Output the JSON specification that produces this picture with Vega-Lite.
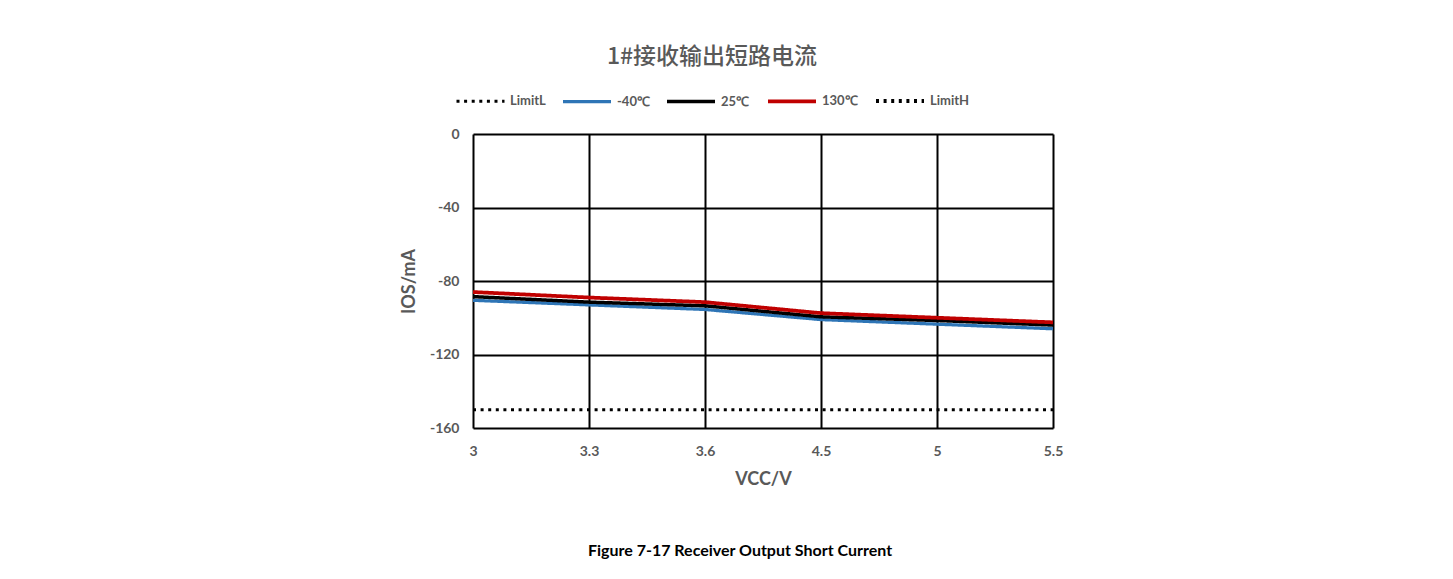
{
  "$schema": "https://vega.github.io/schema/vega-lite/v6.json",
  "autosize": {"type": "none"},
  "width": 580,
  "height": 294,
  "padding": {"left": 473, "top": 134, "right": 400, "bottom": 151},
  "background": "white",
  "config": {
    "font": "Lato",
    "view": {"stroke": null}
  },
  "title": {
    "text": "Figure 7-17 Receiver Output Short Current",
    "orient": "bottom",
    "anchor": "middle",
    "frame": "group",
    "font": "Lato",
    "fontSize": 16,
    "fontWeight": "bold",
    "color": "black",
    "offset": 55,
    "dx": -23
  },
  "data": {
    "values": [
      {"vcc": "3", "series": "LimitL", "ios": -150},
      {"vcc": "3.3", "series": "LimitL", "ios": -150},
      {"vcc": "3.6", "series": "LimitL", "ios": -150},
      {"vcc": "4.5", "series": "LimitL", "ios": -150},
      {"vcc": "5", "series": "LimitL", "ios": -150},
      {"vcc": "5.5", "series": "LimitL", "ios": -150},
      {"vcc": "3", "series": "-40℃", "ios": -90.5},
      {"vcc": "3.3", "series": "-40℃", "ios": -93},
      {"vcc": "3.6", "series": "-40℃", "ios": -95.5},
      {"vcc": "4.5", "series": "-40℃", "ios": -101},
      {"vcc": "5", "series": "-40℃", "ios": -103.5},
      {"vcc": "5.5", "series": "-40℃", "ios": -106},
      {"vcc": "3", "series": "25℃", "ios": -88.5},
      {"vcc": "3.3", "series": "25℃", "ios": -91.5},
      {"vcc": "3.6", "series": "25℃", "ios": -93.5},
      {"vcc": "4.5", "series": "25℃", "ios": -99.5},
      {"vcc": "5", "series": "25℃", "ios": -101.5},
      {"vcc": "5.5", "series": "25℃", "ios": -104},
      {"vcc": "3", "series": "130℃", "ios": -86},
      {"vcc": "3.3", "series": "130℃", "ios": -89},
      {"vcc": "3.6", "series": "130℃", "ios": -91.5},
      {"vcc": "4.5", "series": "130℃", "ios": -97.5},
      {"vcc": "5", "series": "130℃", "ios": -100},
      {"vcc": "5.5", "series": "130℃", "ios": -102.5}
    ]
  },
  "mark": {"type": "line", "strokeCap": "butt", "strokeJoin": "round"},
  "encoding": {
    "x": {
      "field": "vcc",
      "type": "ordinal",
      "sort": ["3", "3.3", "3.6", "4.5", "5", "5.5"],
      "scale": {"type": "point", "padding": 0},
      "axis": {
        "title": "VCC/V",
        "titleFont": "Lato",
        "titleFontSize": 18,
        "titleFontWeight": "bold",
        "titleColor": "#595959",
        "titlePadding": 12,
        "labelFont": "Lato",
        "labelFontSize": 14,
        "labelFontWeight": "bold",
        "labelColor": "#595959",
        "labelPadding": 16,
        "labelAngle": 0,
        "ticks": false,
        "domain": false,
        "grid": true,
        "gridColor": "black",
        "gridWidth": 2
      }
    },
    "y": {
      "field": "ios",
      "type": "quantitative",
      "scale": {"domain": [-160, 0], "nice": false, "zero": false},
      "axis": {
        "title": "IOS/mA",
        "titleFont": "Lato",
        "titleFontSize": 18,
        "titleFontWeight": "bold",
        "titleColor": "#595959",
        "titlePadding": 11,
        "labelFont": "Lato",
        "labelFontSize": 14,
        "labelFontWeight": "bold",
        "labelColor": "#595959",
        "labelPadding": 14,
        "labelExpr": "'' + datum.value",
        "values": [0, -40, -80, -120, -160],
        "ticks": false,
        "domain": false,
        "grid": true,
        "gridColor": "black",
        "gridWidth": 2
      }
    },
    "color": {
      "field": "series",
      "type": "nominal",
      "scale": {
        "domain": ["LimitL", "-40℃", "25℃", "130℃", "LimitH"],
        "range": ["black", "#2E75B6", "black", "#C00000", "black"]
      },
      "legend": {
        "title": "　1#接收输出短路电流",
        "titleFont": "Noto Sans CJK SC",
        "titleFontSize": 23,
        "titleFontWeight": 500,
        "titleColor": "#595959",
        "titleAnchor": "middle",
        "titleLimit": 500,
        "titlePadding": 6,
        "orient": "none",
        "direction": "horizontal",
        "legendX": -18,
        "legendY": -88,
        "symbolType": "stroke",
        "symbolSize": 2304,
        "symbolStrokeWidth": 4,
        "labelFont": "Lato",
        "labelFontSize": 13,
        "labelFontWeight": "bold",
        "labelColor": "#595959",
        "labelOffset": 4,
        "columnPadding": 10
      }
    },
    "strokeDash": {
      "field": "series",
      "type": "nominal",
      "scale": {
        "domain": ["LimitL", "-40℃", "25℃", "130℃", "LimitH"],
        "range": [[3, 4.6], [1, 0], [1, 0], [1, 0], [3, 4.6]]
      },
      "legend": null
    },
    "strokeWidth": {
      "field": "series",
      "type": "nominal",
      "scale": {
        "domain": ["LimitL", "-40℃", "25℃", "130℃", "LimitH"],
        "range": [3, 4, 4, 4, 3]
      },
      "legend": null
    }
  }
}
